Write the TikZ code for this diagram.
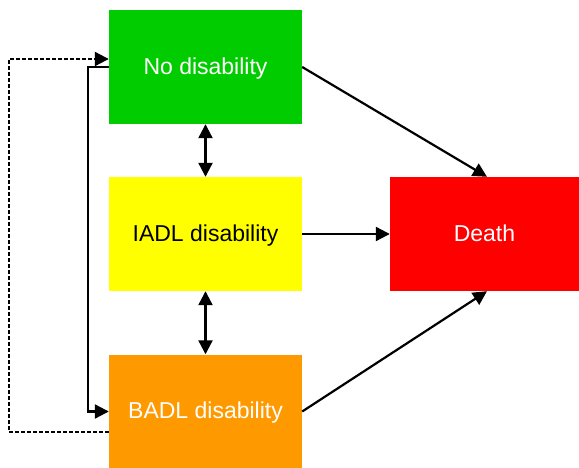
\documentclass[tikz,border=0pt]{standalone}
\usepackage{fontspec}
\setmainfont{Liberation Sans}
\usetikzlibrary{arrows.meta, positioning}
\definecolor{nodisgreen}{RGB}{0, 204, 0}
\definecolor{iadlyellow}{RGB}{255, 255, 0}
\definecolor{badlorange}{RGB}{255, 153, 0}
\definecolor{deathred}{RGB}{255, 0, 0}

\begin{document}
\begin{tikzpicture}[x=1pt, y=-1pt]%
        \tikzstyle{state} = [minimum width=193pt, minimum height=114pt, inner sep=0pt, text depth=2pt, font=\fontsize{23}{26}\selectfont]
        \tikzstyle{arr} = [-{Triangle[length=14pt, width=14pt]}, line width=2.2pt]
        \tikzstyle{darr} = [{Triangle[length=14pt, width=14pt]}-{Triangle[length=14pt, width=14pt]}, line width=2.2pt]

        \useasboundingbox (0,0) rectangle (579,468);

        \node[state, fill=nodisgreen, text=white] (nodis) at (205.5,67) {No disability};
        \node[state, fill=iadlyellow] (iadl) at (205.5,234) {IADL disability};
        \node[state, fill=badlorange, text=white] (badl) at (205.5,411.5) {BADL disability};
        \node[state, fill=deathred, text=white, minimum width=189pt] (death) at (484.5,234) {Death};

        \draw[darr] (nodis.south) -- (iadl.north);
        \draw[darr] (iadl.south) -- (badl.north);

        \draw[arr] (nodis.east) -- ([xshift=2.5pt]death.north);
        \draw[arr] (iadl.east) -- (death.west);
        \draw[arr] (badl.east) -- ([xshift=2.5pt]death.south);

        % recovery paths on the left
        \draw[arr] (nodis.west) -- ++(-21,0) |- (badl.west);
        \draw[arr, dash pattern=on 4pt off 2pt] ([yshift=-20.5pt]badl.west) -- ++(-100,0) |- ([yshift=8pt]nodis.west);
      \end{tikzpicture}
\end{document}
